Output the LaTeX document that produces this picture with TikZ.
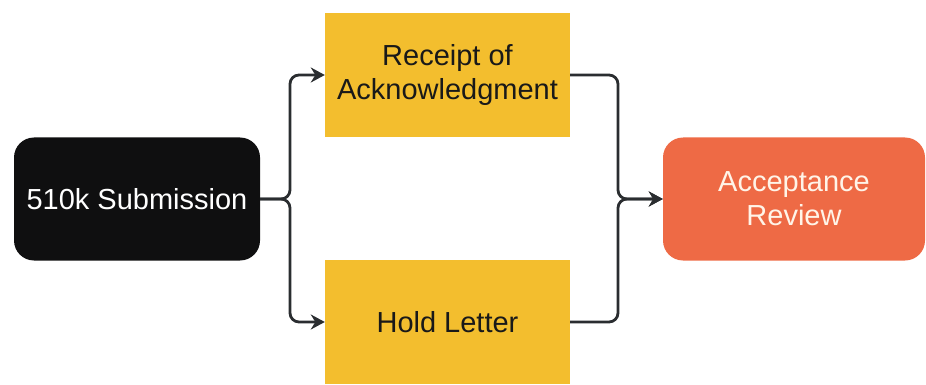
\documentclass[tikz,border=0pt]{standalone}
\usepackage{fontspec}
\setmainfont{Liberation Sans}
\usetikzlibrary{arrows.meta}
\definecolor{subblk}{HTML}{0F0F10}
\definecolor{ylw}{HTML}{F3BE2E}
\definecolor{org}{HTML}{EE6A45}
\definecolor{lnk}{HTML}{2A2D30}
\definecolor{cream}{HTML}{FFF4E8}
\tikzset{
  box/.style={draw=none, inner sep=0pt, align=center, font=\fontsize{29}{34}\selectfont},
  blackbox/.style={box, fill=subblk, text=white, rounded corners=20pt, minimum width=246pt, minimum height=123pt},
  yellowbox/.style={box, fill=ylw, text=black!90, minimum width=245pt, minimum height=124pt},
  orangebox/.style={box, fill=org, text=cream, rounded corners=20pt, minimum width=262pt, minimum height=123pt},
  link/.style={draw=lnk, line width=2.8pt, rounded corners=9pt},
  arr/.style={-{Stealth[length=14pt,width=15pt]}}
}
\begin{document}
\begin{tikzpicture}[x=1pt,y=-1pt]
\useasboundingbox (0,0) rectangle (926,385);
\node[blackbox] (sub) at (137,199) {510k Submission};
\node[yellowbox] (rec) at (447.5,75) {Receipt of\\Acknowledgment};
\node[yellowbox] (hold) at (447.5,322) {Hold Letter};
\node[orangebox] (acc) at (794,199) {Acceptance\\Review};
\coordinate (jl) at (290,199);
\coordinate (jr) at (618,199);
\draw[link,arr] (sub.east) -- (jl) |- (rec.west);
\draw[link,arr] (sub.east) -- (jl) |- (hold.west);
\draw[link,arr] (rec.east) -| (jr) -- (acc.west);
\draw[link,arr] (hold.east) -| (jr) -- (acc.west);
\end{tikzpicture}
\end{document}
